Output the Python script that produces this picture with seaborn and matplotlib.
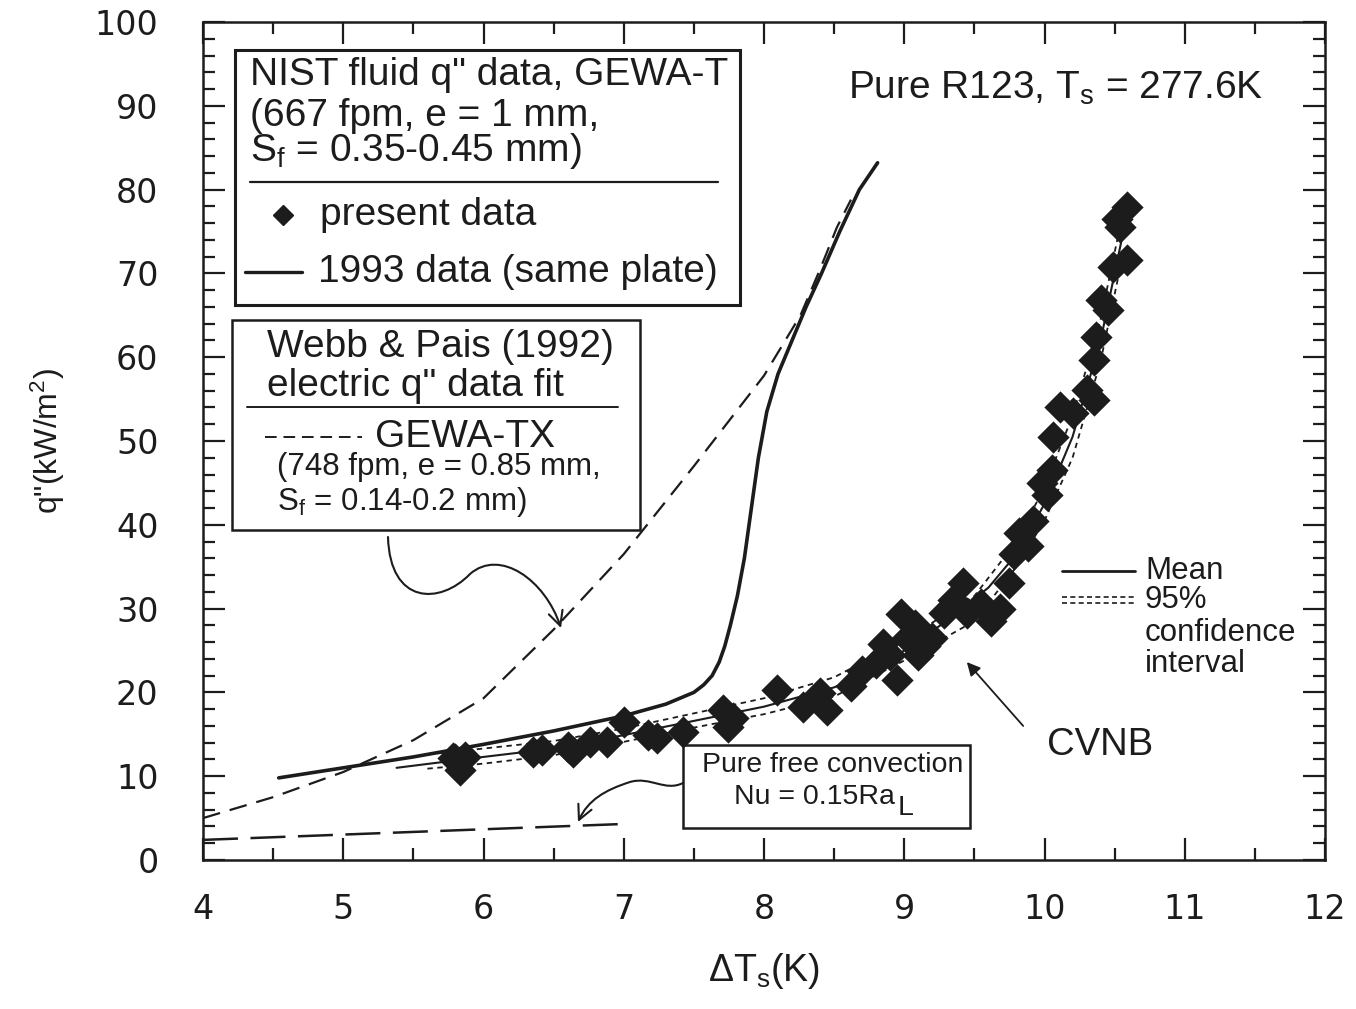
import matplotlib
matplotlib.use("Agg")
import matplotlib.pyplot as plt
import seaborn as sns
import pandas as pd
from matplotlib.path import Path
from matplotlib.patches import FancyArrowPatch, Rectangle
from matplotlib.ticker import MultipleLocator

# ---------------- data ----------------
present_dT = [5.78, 5.83, 5.87, 5.80, 6.35, 6.42, 6.60, 6.64, 6.76, 6.88,
              7.00, 7.17, 7.24, 7.42, 7.71, 7.74, 7.78, 8.09, 8.28, 8.40,
              8.45, 8.62, 8.70, 8.80, 8.85, 8.90, 8.95, 8.98, 9.02, 9.08,
              9.10, 9.15, 9.20, 9.28, 9.35, 9.42, 9.45, 9.55, 9.62, 9.68, 9.75,
              9.78, 9.82, 9.88, 9.92, 9.98, 10.02, 10.05, 10.06, 10.11, 10.20,
              10.30, 10.35, 10.35, 10.37, 10.40, 10.45, 10.49, 10.59,
              10.54, 10.59, 10.52]
present_q = [12.2, 10.7, 12.3, 12.0, 12.9, 13.1, 13.5, 12.9, 14.1, 14.1,
             16.5, 14.9, 14.6, 15.3, 17.9, 15.9, 17.0, 20.3, 18.3, 19.9,
             17.9, 20.8, 22.5, 23.5, 25.8, 24.5, 21.5, 29.3, 26.5, 28.0,
             24.5, 25.5, 26.5, 29.5, 31.0, 33.0, 29.5, 30.5, 28.5, 30.0, 33.0,
             36.5, 39.0, 37.5, 40.5, 45.0, 43.5, 46.5, 50.5, 54.1, 53.3,
             56.1, 54.9, 59.7, 62.4, 66.8, 65.6, 70.8, 71.6,
             75.5, 77.9, 76.5]

mean_dT = [5.38, 6.0, 6.5, 7.0, 7.5, 8.0, 8.5, 8.8, 9.0, 9.3, 9.6, 9.8, 10.0, 10.2, 10.4, 10.55, 10.62]
mean_q = [11.0, 12.3, 13.3, 14.9, 16.6, 18.3, 20.6, 22.8, 25.0, 28.5, 32.5, 36.5, 42.5, 50.5, 62.0, 74.0, 79.0]

ci_up_dT = [5.6, 6.0, 6.5, 7.0, 7.5, 8.0, 8.5, 9.0, 9.5, 9.8, 10.0, 10.2, 10.4, 10.55]
ci_up_q = [12.6, 13.3, 14.2, 15.7, 17.5, 19.3, 21.8, 26.2, 31.5, 38.0, 44.5, 53.0, 64.5, 76.5]
ci_lo_dT = [5.6, 6.0, 6.5, 7.0, 7.5, 8.0, 8.5, 9.0, 9.5, 9.8, 10.0, 10.2, 10.4, 10.55]
ci_lo_q = [10.9, 11.5, 12.5, 14.1, 15.8, 17.4, 19.5, 23.8, 28.5, 35.0, 40.5, 48.0, 59.5, 71.5]

data1993_dT = [4.54, 5.0, 5.5, 6.0, 6.5, 7.0, 7.3, 7.5, 7.57, 7.63, 7.68, 7.72, 7.76, 7.81, 7.86,
               7.91, 7.96, 8.02, 8.10, 8.20, 8.30, 8.41, 8.54, 8.68, 8.81]
data1993_q = [9.8, 11.0, 12.3, 13.8, 15.4, 17.2, 18.6, 20.0, 20.9, 22.0, 23.6, 25.5, 28.0, 31.5, 36.0,
              42.0, 48.0, 53.5, 58.0, 62.0, 66.0, 70.0, 75.0, 80.0, 83.2]

webb_dT = [4.0, 4.5, 5.0, 5.5, 6.0, 6.5, 7.0, 7.5, 8.0, 8.26, 8.40, 8.52, 8.62]
webb_q = [5.0, 7.5, 10.5, 14.3, 19.3, 27.5, 36.5, 47.0, 57.8, 65.0, 70.5, 75.5, 78.8]

freeconv_dT = [4.0, 7.0]
freeconv_q = [2.4, 4.3]

x_ticks = [4, 5, 6, 7, 8, 9, 10, 11, 12]
y_ticks = [0, 10, 20, 30, 40, 50, 60, 70, 80, 90, 100]

# ---------------- style ----------------
sns.set_theme(style="ticks")
plt.rcParams["font.family"] = ["Liberation Sans", "DejaVu Sans"]
plt.rcParams["mathtext.fontset"] = "custom"
plt.rcParams["mathtext.rm"] = "Liberation Sans"
plt.rcParams["mathtext.it"] = "Liberation Sans:italic"
plt.rcParams["mathtext.default"] = "regular"
INK = "#1c1c1c"

W, H = 1356, 1009
fig = plt.figure(figsize=(W / 100, H / 100), dpi=100)
L, R, B, T = 203, 1325, 860, 22
ax = fig.add_axes([L / W, 1 - B / H, (R - L) / W, (B - T) / H])
ax.set_xlim(4, 12)
ax.set_ylim(0, 100)


def px(x):
    return (x - L) / (R - L) * 8 + 4


def py(y):
    return (B - y) / (B - T) * 100


# ---------------- lines ----------------
sns.lineplot(x=data1993_dT, y=data1993_q, ax=ax, color=INK, lw=2.6, sort=False, estimator=None)
sns.lineplot(x=webb_dT, y=webb_q, ax=ax, color=INK, lw=1.6, sort=False, estimator=None,
             linestyle=(0, (8, 4.5)))
sns.lineplot(x=freeconv_dT, y=freeconv_q, ax=ax, color=INK, lw=1.8, sort=False, estimator=None,
             linestyle=(0, (14, 5)))
sns.lineplot(x=mean_dT, y=mean_q, ax=ax, color=INK, lw=1.5, sort=False, estimator=None)
sns.lineplot(x=ci_up_dT, y=ci_up_q, ax=ax, color=INK, lw=1.3, sort=False, estimator=None,
             linestyle=(0, (3, 2.5)))
sns.lineplot(x=ci_lo_dT, y=ci_lo_q, ax=ax, color=INK, lw=1.3, sort=False, estimator=None,
             linestyle=(0, (3, 2.5)))

df = pd.DataFrame({"dT": present_dT, "q": present_q})
sns.scatterplot(data=df, x="dT", y="q", ax=ax, marker="D", s=270, color=INK,
                edgecolor=INK, linewidth=0, zorder=5)

# ---------------- axes ----------------
ax.set_xticks(x_ticks)
ax.set_yticks(y_ticks)
ax.xaxis.set_minor_locator(MultipleLocator(0.5))
ax.yaxis.set_minor_locator(MultipleLocator(2))
ax.tick_params(which="both", direction="in", top=True, right=True, color=INK, width=1.6)
ax.tick_params(which="major", length=16)
ax.tick_params(which="minor", length=8.5)
ax.tick_params(axis="x", which="major", pad=24)
ax.tick_params(axis="y", which="major", pad=32)
for lab in ax.get_xticklabels() + ax.get_yticklabels():
    lab.set_fontfamily("DejaVu Sans")
    lab.set_fontsize(24)
    lab.set_color(INK)
for s in ax.spines.values():
    s.set_linewidth(1.8)
    s.set_color(INK)

ax.set_xlabel("ΔT$_\\mathregular{s}$(K)", fontsize=27, color=INK, labelpad=18)
ax.set_ylabel("q\"(kW/m$^\\mathregular{2}$)", fontsize=23, color=INK, labelpad=20)

# ---------------- annotation boxes ----------------
def box(x0, y0, x1, y1, lw=2.0):
    ax.add_patch(Rectangle((px(x0), py(y1)), px(x1) - px(x0), py(y0) - py(y1),
                           fill=False, lw=lw, ec=INK, zorder=3))


def hline(x0, x1, y, lw=1.5, ls="-"):
    ax.plot([px(x0), px(x1)], [py(y), py(y)], color=INK, lw=lw, ls=ls)


def txt(x, y, s, size=28, ha="left"):
    return ax.text(px(x), py(y), s, fontsize=size, ha=ha, va="center", color=INK)


# Box 1
box(235, 50, 740, 305, lw=2.2)
txt(250, 75, "NIST fluid q\" data, GEWA-T")
txt(250, 116, "(667 fpm, e = 1 mm,")
txt(250, 151, "S$_\\mathregular{f}$ = 0.35-0.45 mm)")
hline(250, 718, 182, lw=1.6)
ax.plot([px(283)], [py(215)], marker="D", ms=10, color=INK, ls="none")
txt(320, 215, "present data")
hline(245, 302, 272, lw=2.4)
txt(318, 272, "1993 data (same plate)")

# Box 2
box(232, 320, 640, 530, lw=1.8)
txt(267, 347, "Webb & Pais (1992)")
txt(267, 386, "electric q\" data fit")
hline(247, 618, 407, lw=1.4)
hline(265, 362, 437, lw=1.4, ls=(0, (6, 3.5)))
txt(375, 437, "GEWA-TX")
txt(277, 467, "(748 fpm, e = 0.85 mm,", size=22.5)
txt(277, 502, "S$_\\mathregular{f}$ = 0.14-0.2 mm)", size=22.5)

# Title-like label
txt(848, 88, "Pure R123, T$_\\mathregular{s}$ = 277.6K")

# Free convection box
box(683, 745, 970, 828, lw=1.8)
txt(833, 765, "Pure free convection", size=20.5, ha="center")
txt(734, 797, "Nu = 0.15Ra", size=20.5)
txt(898, 808, "L", size=20.5)

# Mean / CI legend
hline(1062, 1135, 571, lw=2.0)
hline(1062, 1135, 597, lw=1.2, ls=(0, (3, 2)))
hline(1062, 1135, 603, lw=1.2, ls=(0, (3, 2)))
txt(1145, 571, "Mean", size=22.5)
txt(1145, 600, "95%", size=22.5)
txt(1145, 633, "confidence", size=22.5)
txt(1145, 664, "interval", size=22.5)

txt(1047, 745, "CVNB", size=27.5)

# ---------------- arrows ----------------
def curly(points, codes, ms=22):
    verts = [(px(a), py(b)) for a, b in points]
    p = Path(verts, codes)
    arr = FancyArrowPatch(path=p, arrowstyle="->", mutation_scale=ms, color=INK, lw=1.5)
    ax.add_patch(arr)


C4 = Path.CURVE4
curly([(388, 537), (390, 605), (440, 605), (470, 574), (500, 548), (545, 580), (561, 628)],
      [Path.MOVETO, C4, C4, C4, C4, C4, C4], ms=26)
curly([(683, 783), (665, 792), (650, 776), (630, 782), (605, 790), (588, 800), (578, 822)],
      [Path.MOVETO, C4, C4, C4, C4, C4, C4], ms=26)
ax.annotate("", xy=(px(965), py(660)), xytext=(px(1025), py(728)),
            arrowprops=dict(arrowstyle="-|>", color=INK, lw=1.3, mutation_scale=20))

fig.savefig("out.png", dpi=100, facecolor="white")
